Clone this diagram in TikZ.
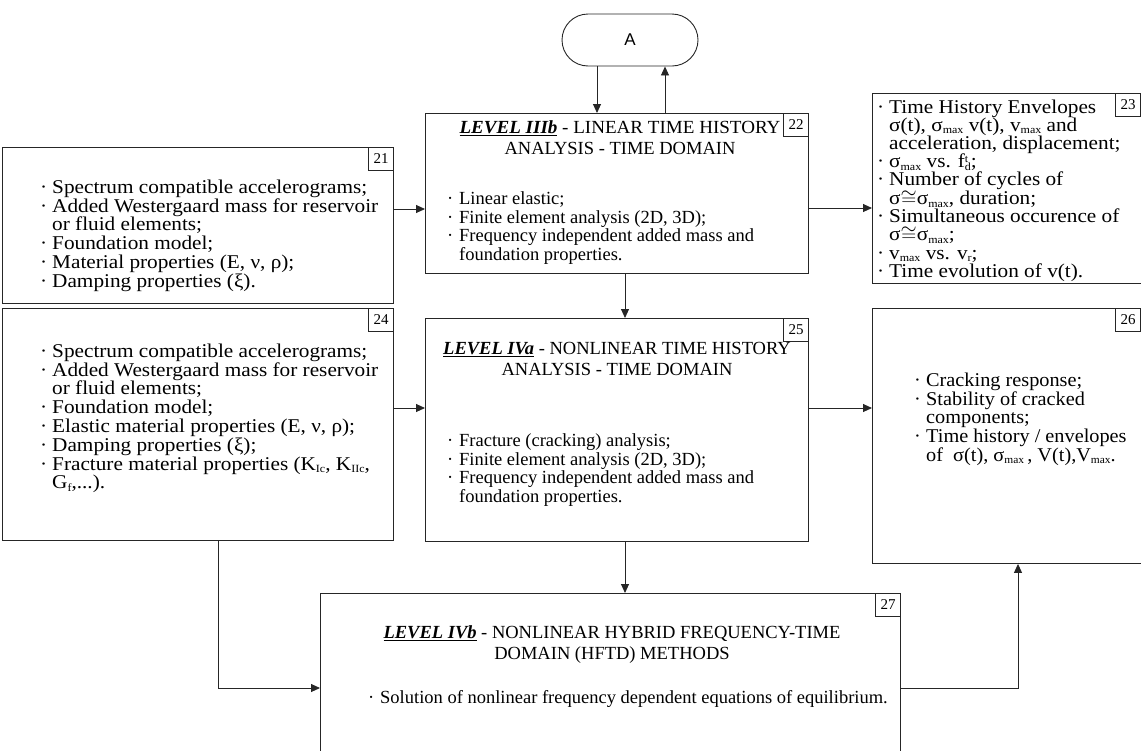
\documentclass[tikz,border=0pt]{standalone}
\usepackage{fontspec}
\setmainfont{Liberation Serif}
\newfontfamily\sansA{Liberation Sans}
\newfontfamily\wideA[FakeStretch=1.09]{Liberation Serif}
\newfontfamily\wideC[FakeStretch=1.04]{Liberation Serif}
\usetikzlibrary{arrows.meta}
\newcommand{\bul}{\makebox[12pt][l]{·}}
\newcommand{\ind}{\hspace*{12pt}}
\newcommand{\fs}{\rule{0pt}{14pt}}
\newcommand{\sbs}[1]{\raisebox{-2.5pt}{\fontsize{11}{11}\selectfont #1}}
\newcommand{\mx}{\sbs{max}}
\begin{document}
\begin{tikzpicture}[x=1pt,y=-1pt,
  bx/.style={draw=black!85, line width=0.9pt, anchor=north west, inner sep=0pt},
  lbl/.style={draw=black!85, line width=0.8pt, anchor=north east, minimum width=25pt, minimum height=23pt, inner sep=0pt, font=\fontsize{15}{16}\selectfont},
  txt/.style={anchor=north west, inner sep=0pt, align=left, font=\fontsize{18.5}{18.8}\selectfont},
  wtxt/.style={txt, font=\wideA\fontsize{19.5}{18.8}\selectfont},
  ttl/.style={anchor=north, inner sep=0pt, align=center, font=\fontsize{18.5}{21}\selectfont},
  arr/.style={draw=black!85, line width=0.9pt, -{Triangle[length=9pt,width=8pt]}},
  pill/.style={draw=black!85, line width=0.9pt, rounded corners=26pt, minimum width=136pt, minimum height=52pt, inner sep=0pt, font=\sansA\fontsize{17}{18}\selectfont}]
\useasboundingbox (0,0) rectangle (1141,750);
\clip (0,0) rectangle (1141,750);
% pill
\node[pill] (A) at (630,40) {A};
% boxes
\node[bx, minimum width=391pt, minimum height=156pt] (b21) at (2,147) {};
\node[bx, minimum width=383pt, minimum height=160pt] (b22) at (425,113) {};
\node[bx, minimum width=275pt, minimum height=190pt] (b23) at (872,93) {};
\node[bx, minimum width=391pt, minimum height=232pt] (b24) at (2,308) {};
\node[bx, minimum width=383pt, minimum height=223pt] (b25) at (425,318) {};
\node[bx, minimum width=275pt, minimum height=255pt] (b26) at (872,308) {};
\node[bx, minimum width=580pt, minimum height=180pt] (b27) at (320,593) {};
% labels
\node[lbl] (l21) at (b21.north east) {21};
\node[lbl] (l22) at (b22.north east) {22};
\node[lbl] (l23) at (1141,93) {23};
\node[lbl] (l24) at (b24.north east) {24};
\node[lbl] (l25) at (b25.north east) {25};
\node[lbl] (l26) at (1141,308) {26};
\node[lbl] (l27) at (b27.north east) {27};
% texts
\node[wtxt] (t21) at (40,179) {\fs\bul Spectrum compatible accelerograms;\\
\bul Added Westergaard mass for reservoir\\
\ind or fluid elements;\\
\bul Foundation model;\\
\bul Material properties (E, ν, ρ);\\
\bul Damping properties (ξ).};
\node[ttl] (h22) at (620,119) {\fs\scalebox{1.03}[1]{\underline{\textbf{\textit{LEVEL IIIb}}} - LINEAR TIME HISTORY}\\ ANALYSIS - TIME DOMAIN};
\node[txt] (t22) at (447,190) {\fs\bul Linear elastic;\\
\bul Finite element analysis (2D, 3D);\\
\bul Frequency independent added mass and\\
\ind foundation properties.};
\node[txt, font=\wideA\fontsize{19.5}{18.1}\selectfont] (t23) at (877,99) {\fs\bul Time History Envelopes\\
\ind σ(t), σ\mx\ v(t), v\mx\ and\\
\ind acceleration, displacement;\\
\bul σ\mx\ vs. f\rlap{\raisebox{5pt}{\fontsize{11}{11}\selectfont t}}\sbs{d};\\
\bul Number of cycles of\\
\ind σ$\cong$σ\mx, duration;\\
\bul Simultaneous occurence of\\
\ind σ$\cong$σ\mx;\\
\bul v\mx\ vs. v\sbs{r};\\
\bul Time evolution of v(t).};
\node[wtxt] (t24) at (40,343) {\fs\bul Spectrum compatible accelerograms;\\
\bul Added Westergaard mass for reservoir\\
\ind or fluid elements;\\
\bul Foundation model;\\
\bul Elastic material properties (E, ν, ρ);\\
\bul Damping properties (ξ);\\
\bul Fracture material properties (K\sbs{Ic}, K\sbs{IIc},\\
\ind G\sbs{f},...).};
\node[ttl] (h25) at (617,340) {\fs\underline{\textbf{\textit{LEVEL IVa}}} - NONLINEAR TIME HISTORY\\ ANALYSIS - TIME DOMAIN};
\node[txt] (t25) at (447,432) {\fs\bul Fracture (cracking) analysis;\\
\bul Finite element analysis (2D, 3D);\\
\bul Frequency independent added mass and\\
\ind foundation properties.};
\node[txt, font=\wideC\fontsize{19.5}{18.8}\selectfont] (t26) at (914,372) {\fs\bul Cracking response;\\
\bul Stability of cracked\\
\ind components;\\
\bul Time history / envelopes\\
\ind of\ \ σ(t), σ\mx\,, V(t),V\mx.};
\node[ttl] (h27) at (612,624) {\fs\underline{\textbf{\textit{LEVEL IVb}}} - NONLINEAR HYBRID FREQUENCY-TIME\\ DOMAIN (HFTD) METHODS};
\node[txt] (t27) at (368,689) {\fs\bul Solution of nonlinear frequency dependent equations of equilibrium.};
% connectors
\draw[arr] (A.south -| 597,0) -- (b22.north -| 597,0);
\draw[arr] (b22.north -| 665,0) -- (A.south -| 665,0);
\draw[arr] (b21.east |- 0,209) -- (b22.west |- 0,209);
\draw[arr] (b22.east |- 0,208) -- (b23.west |- 0,208);
\draw[arr] (b22.south -| 625,0) -- (b25.north -| 625,0);
\draw[arr] (b24.east |- 0,408) -- (b25.west |- 0,408);
\draw[arr] (b25.east |- 0,408) -- (b26.west |- 0,408);
\draw[arr] (b25.south -| 625,0) -- (b27.north -| 625,0);
\draw[arr] (b24.south -| 218,0) |- (b27.west |- 0,688);
\draw[arr] (b27.east |- 0,688) -| (b26.south -| 1018,0);
\end{tikzpicture}
\end{document}
